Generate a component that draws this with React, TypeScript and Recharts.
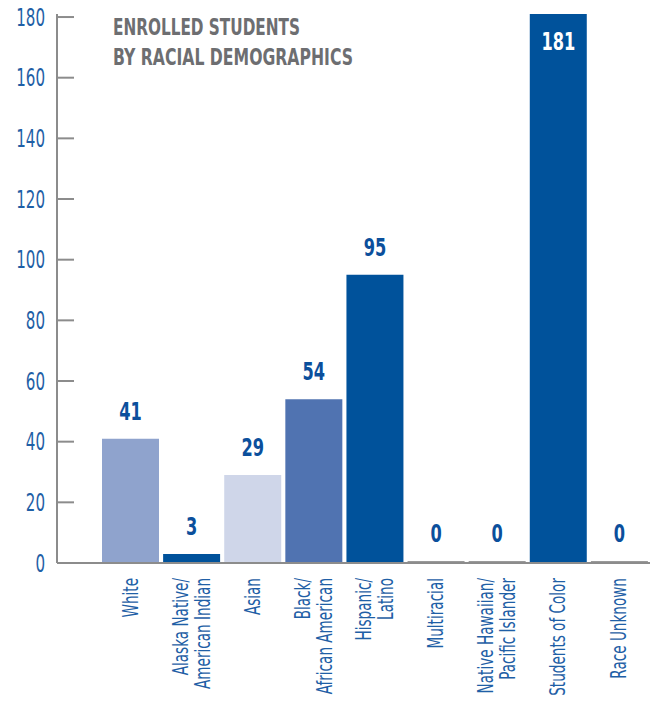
import React from "react";
import { BarChart, Bar, XAxis, YAxis, Cell, LabelList } from "recharts";

const categories = [
  "White",
  "Alaska Native/\nAmerican Indian",
  "Asian",
  "Black/\nAfrican American",
  "Hispanic/\nLatino",
  "Multiracial",
  "Native Hawaiian/\nPacific Islander",
  "Students of Color",
  "Race Unknown",
];
const students = [41, 3, 29, 54, 95, 0, 0, 181, 0];
const barColors = ["#8fa3cd", "#00529b", "#cfd6e9", "#5073b1", "#00529b", "#9a9a9a", "#9a9a9a", "#00529b", "#9a9a9a"];
const yTicks = [0, 20, 40, 60, 80, 100, 120, 140, 160, 180];
const titleLines = ["ENROLLED STUDENTS", "BY RACIAL DEMOGRAPHICS"];

const data = categories.map((c, i) => ({ name: c, value: students[i] }));

const FONT = "'Liberation Sans Narrow', 'DejaVu Sans Condensed', 'Roboto', sans-serif";
const AXIS_GRAY = "#8c8c8c";
const TICK_BLUE = "#1f5fa6";
const LABEL_BLUE = "#0b4f9c";

const YTick = (props: any) => {
  const { x, y, payload } = props;
  return (
    <g>
      <line x1={x + 12} x2={x + 29} y1={y} y2={y} stroke={AXIS_GRAY} strokeWidth={2} />
      <text
        transform={`translate(${x},${y}) scale(0.7,1)`}
        x={0}
        y={0}
        dy="0.36em"
        textAnchor="end"
        fill={TICK_BLUE}
        fontFamily={FONT}
        fontSize={24}
      >
        {payload.value}
      </text>
    </g>
  );
};

const XTick = (props: any) => {
  const { x, y, payload } = props;
  const lines = String(payload.value).split("\n");
  const offsets = lines.length === 1 ? [7] : [-4, 18];
  return (
    <g transform={`translate(${x},${y + 15})`}>
      {lines.map((l, i) => (
        <text
          key={i}
          transform="rotate(-90) scale(0.72,1)"
          x={0}
          y={offsets[i]}
          textAnchor="end"
          fill={TICK_BLUE}
          fontFamily={FONT}
          fontSize={21}
        >
          {l}
        </text>
      ))}
    </g>
  );
};

const ValueLabel = (props: any) => {
  const { x, y, width, value } = props;
  const cx = x + width / 2;
  const inside = value > 150;
  const ty = inside ? y + 36 : y - 19;
  return (
    <text
      transform={`translate(${cx},${ty}) scale(0.75,1)`}
      x={0}
      y={0}
      textAnchor="middle"
      fill={inside ? "#ffffff" : LABEL_BLUE}
      fontFamily={FONT}
      fontWeight="bold"
      fontSize={24}
    >
      {value}
    </text>
  );
};

export default function App() {
  return (
    <div style={{ position: "absolute", left: 0, top: 0, width: 650, height: 702 }}>
      <BarChart width={650} height={702} data={data} margin={{ top: 14, right: 0, bottom: 0, left: 0 }}>
        <YAxis
          type="number"
          domain={[0, 181]}
          ticks={yTicks}
          width={57}
          tickSize={0}
          tickMargin={12}
          tickLine={false}
          axisLine={{ stroke: AXIS_GRAY, strokeWidth: 2 }}
          tick={<YTick />}
          interval={0}
        />
        <XAxis
          dataKey="name"
          height={139}
          padding={{ left: 43, right: 0 }}
          tickSize={0}
          tickMargin={0}
          tickLine={false}
          axisLine={{ stroke: AXIS_GRAY, strokeWidth: 2 }}
          tick={<XTick />}
          interval={0}
        />
        <Bar dataKey="value" barSize={57} minPointSize={2} isAnimationActive={false}>
          {data.map((d, i) => (
            <Cell key={i} fill={barColors[i]} />
          ))}
          <LabelList dataKey="value" content={<ValueLabel />} />
        </Bar>
      </BarChart>
      <svg width={650} height={702} style={{ position: "absolute", left: 0, top: 0, pointerEvents: "none" }}>
        {titleLines.map((t, i) => (
          <text
            key={i}
            x={113}
            y={35 + i * 30}
            fill="#6d6e71"
            fontFamily={FONT}
            fontWeight="bold"
            fontSize={23}
            textLength={i === 0 ? 187 : 240}
            lengthAdjust="spacingAndGlyphs"
          >
            {t}
          </text>
        ))}
      </svg>
    </div>
  );
}
